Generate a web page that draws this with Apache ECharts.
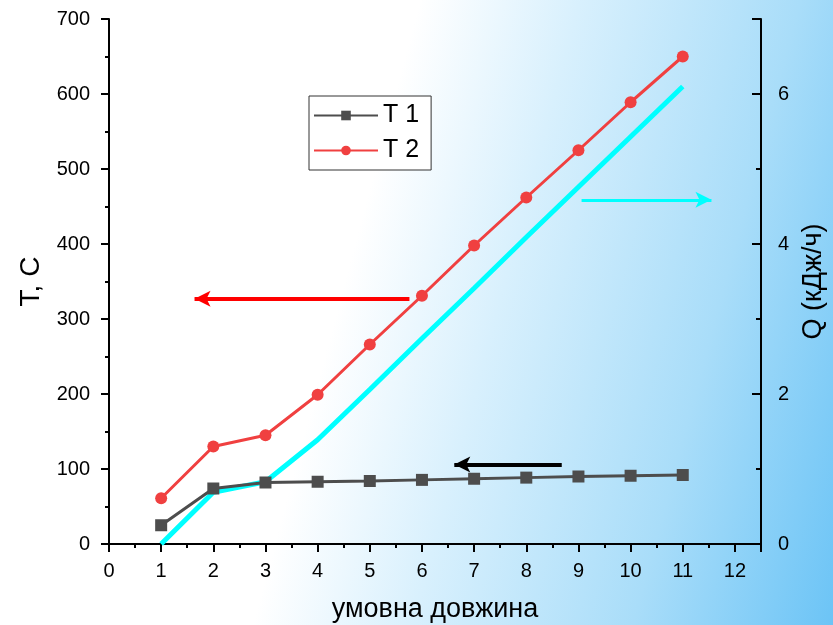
<!DOCTYPE html>
<html>
<head>
    <meta charset="UTF-8" />
    <title>T, Q</title>
    <script src="https://cdn.jsdelivr.net/npm/echarts@6/dist/echarts.min.js"></script>
    <style>
        html, body { margin: 0; padding: 0; }
        #chart {
            width: 833px; height: 625px;
            background: linear-gradient(105deg, #ffffff 42%, #d8f0fd 58%, #a9ddf9 80%, #6cc4f6 100%);
        }
    </style>
</head>
<body>
    <div id="chart"></div>
    <script type="text/javascript">
        // data
        let xValues = [1, 2, 3, 4, 5, 6, 7, 8, 9, 10, 11];
        let t1 = [25, 74, 82, 83, 84, 85.5, 87, 88.5, 90, 91, 92];
        let t2 = [61, 130, 145, 199, 266, 331, 398, 462, 525, 589, 650];
        let q = [0, 0.69, 0.83, 1.39, 2.06, 2.74, 3.41, 4.09, 4.76, 5.43, 6.1];

        // arrows: [x from, y from, x to, y to] in data units
        let redArrow = [5.76, 327, 1.64, 327];
        let blackArrow = [8.68, 106, 6.62, 106];
        let cyanArrow = [9.06, 4.59, 11.55, 4.59];

        let pairs = (xs, ys) => xs.map((x, i) => [x, ys[i]]);

        let arrow = (a, color, width) => ({
            silent: true,
            symbol: ['none', 'arrow'],
            symbolSize: [12, 16],
            label: { show: false },
            lineStyle: { type: 'solid', color: color, width: width },
            data: [[{ coord: [a[0], a[1]] }, { coord: [a[2], a[3]] }]]
        });

        let font = 'Liberation Sans, Arial, sans-serif';
        let axisCommon = {
            axisLine: { show: true, lineStyle: { color: '#000', width: 2 } },
            axisTick: { show: true, length: 8, lineStyle: { color: '#000', width: 2 } },
            minorTick: { show: true, splitNumber: 2, length: 4, lineStyle: { color: '#000', width: 2 } },
            splitLine: { show: false },
            axisLabel: { color: '#000', fontSize: 20, fontFamily: font, margin: 18, showMaxLabel: false },
            nameTextStyle: { color: '#000', fontSize: 27, fontFamily: font }
        };

        let chart = echarts.init(document.getElementById('chart'));
        let option = {
            animation: false,
            textStyle: { fontFamily: font },
            grid: { left: 109, right: 72, top: 19, bottom: 81, outerBoundsMode: 'none', containLabel: false },
            legend: {
                orient: 'vertical',
                left: 309,
                top: 96,
                data: ['T 1', 'T 2'],
                itemWidth: 64,
                itemHeight: 12,
                itemGap: 10,
                padding: [7, 12, 7, 4],
                borderColor: '#333',
                borderWidth: 1,
                backgroundColor: '#fff',
                textStyle: { color: '#000', fontSize: 25, fontFamily: font }
            },
            xAxis: Object.assign({}, axisCommon, {
                type: 'value',
                min: 0,
                max: 12.5,
                interval: 1,
                name: 'умовна довжина',
                nameLocation: 'middle',
                nameGap: 52,
                axisLabel: Object.assign({}, axisCommon.axisLabel, { margin: 17 })
            }),
            yAxis: [
                Object.assign({}, axisCommon, {
                    type: 'value',
                    min: 0,
                    max: 700,
                    interval: 100,
                    name: 'T, C',
                    nameLocation: 'middle',
                    nameRotate: 90,
                    nameGap: 62,
                    nameTextStyle: { color: '#000', fontSize: 28, fontFamily: font },
                    axisLabel: Object.assign({}, axisCommon.axisLabel, { showMaxLabel: true, margin: 19 })
                }),
                Object.assign({}, axisCommon, {
                    type: 'value',
                    position: 'right',
                    min: 0,
                    max: 7,
                    interval: 2,
                    name: 'Q (кДж/ч)',
                    nameLocation: 'middle',
                    nameRotate: 90,
                    nameGap: 32,
                    nameTextStyle: { color: '#000', fontSize: 27, fontFamily: font },
                    axisTick: { show: true, inside: true, length: 9, lineStyle: { color: '#000', width: 2 } },
                    minorTick: { show: true, splitNumber: 2, length: 5, lineStyle: { color: '#000', width: 2 } },
                    axisLabel: Object.assign({}, axisCommon.axisLabel, { margin: 17 })
                })
            ],
            series: [
                {
                    name: 'Q',
                    type: 'line',
                    yAxisIndex: 1,
                    data: pairs(xValues, q),
                    showSymbol: false,
                    lineStyle: { color: '#00ffff', width: 5 },
                    itemStyle: { color: '#00ffff' },
                    z: 2,
                    markLine: arrow(cyanArrow, '#00ffff', 3)
                },
                {
                    name: 'T 1',
                    type: 'line',
                    data: pairs(xValues, t1),
                    symbol: 'rect',
                    symbolSize: 12,
                    lineStyle: { color: '#4d4d4d', width: 3 },
                    itemStyle: { color: '#4d4d4d' },
                    z: 3,
                    markLine: arrow(blackArrow, '#000000', 4)
                },
                {
                    name: 'T 2',
                    type: 'line',
                    data: pairs(xValues, t2),
                    symbol: 'circle',
                    symbolSize: 12,
                    lineStyle: { color: '#f04040', width: 3 },
                    itemStyle: { color: '#f04040' },
                    z: 4,
                    markLine: arrow(redArrow, '#ff0000', 4)
                }
            ]
        };
        chart.setOption(option);
    </script>
</body>
</html>
